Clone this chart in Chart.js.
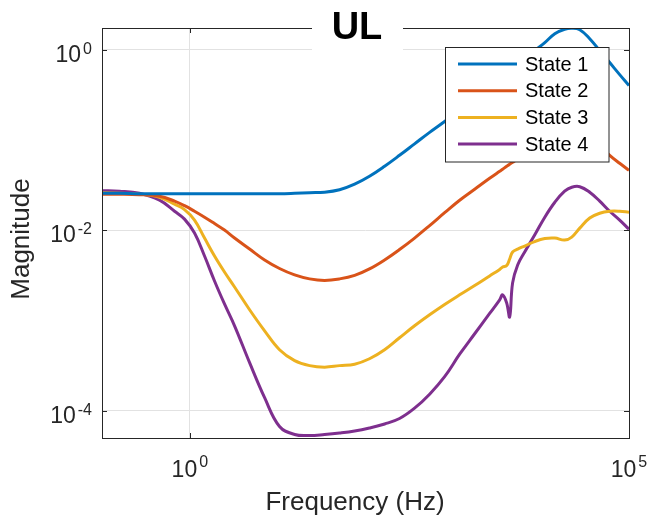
<!DOCTYPE html>
<html><head><meta charset="utf-8">
<script src="https://cdn.jsdelivr.net/npm/chart.js@4/dist/chart.umd.min.js"></script>
<style>html,body{margin:0;padding:0;background:#fff;}canvas{display:block;}</style>
</head><body>
<canvas id="c" width="654" height="519"></canvas>
<script>
const frequencies = [0.1, 0.158, 0.267, 0.452, 0.67, 0.87, 1.131, 1.47, 1.91, 2.48, 3.23, 4.79, 7.1, 10.5, 15.6, 23.1, 34.2, 50.7, 75.2, 111, 165, 244, 362, 537, 796, 1180, 1750, 2590, 3370, 3640, 4050, 4380, 4730, 5400, 6490, 8430, 11000, 14300, 18500, 22300, 27500, 35700, 46400, 60300, 78300, 100000];
const state1 = [0.0258,0.0258,0.0255,0.0255,0.0255,0.0255,0.0255,0.0255,0.0255,0.0255,0.0255,0.0255,0.0255,0.0255,0.0258,0.0262,0.0265,0.0282,0.0325,0.0398,0.0514,0.0679,0.0910,0.122,0.161,0.216,0.297,0.398,0.482,0.507,0.547,0.583,0.613,0.679,0.791,0.982,1.204,1.514,1.697,1.74,1.676,1.333,0.982,0.724,0.533,0.403];
const state2 = [0.0252,0.0252,0.0249,0.0239,0.0211,0.0188,0.0163,0.0140,0.0119,0.01008,0.00822,0.00621,0.00470,0.00378,0.00321,0.00290,0.00279,0.00290,0.00317,0.00374,0.00470,0.00613,0.00822,0.0113,0.0157,0.0216,0.0286,0.0378,0.0452,0.0476,0.0514,0.0540,0.0568,0.0621,0.0715,0.0865,0.1034,0.119,0.130,0.1333,0.1283,0.1101,0.0876,0.0679,0.0554,0.0464];
const state3 = [0.0262,0.0258,0.0252,0.0233,0.0195,0.0170,0.0130,0.00822,0.00520,0.00346,0.00236,0.00132,0.000771,0.000476,0.000360,0.000317,0.000305,0.000317,0.000329,0.000378,0.000476,0.000646,0.000876,0.00116,0.00151,0.00193,0.00245,0.00313,0.00369,0.00393,0.00408,0.00482,0.00576,0.00621,0.00671,0.00752,0.00812,0.00822,0.00781,0.00843,0.0106,0.0137,0.0155,0.0163,0.0163,0.0159];
const state4 = [0.0275,0.0272,0.0258,0.0216,0.0163,0.01333,0.00934,0.00520,0.00275,0.00153,0.000876,0.000342,0.000140,0.0000671,0.0000547,0.0000533,0.0000547,0.0000568,0.0000598,0.0000646,0.0000715,0.0000822,0.000107,0.000153,0.000239,0.000424,0.000715,0.00120,0.00170,0.00193,0.00157,0.00110,0.00262,0.00414,0.00576,0.00887,0.0140,0.0205,0.0272,0.0301,0.0305,0.0265,0.0211,0.0163,0.0130,0.0103];
const seriesNames = ['State 1', 'State 2', 'State 3', 'State 4'];
const seriesColors = ['#0072BD', '#D95319', '#EDB120', '#7E2F8E'];
const xTickValues = [1, 1e5];
const xTickExponents = ['0', '5'];
const yTickValues = [1e-4, 1e-2, 1];
const yTickExponents = ['-4', '-2', '0'];
const titleText = 'UL';
const xTitle = 'Frequency (Hz)';
const yTitle = 'Magnitude';

const FONT = '"Liberation Sans", Arial, Helvetica, sans-serif';
const allSeries = [state1, state2, state3, state4];

const overlay = {
  id: 'overlay',
  afterDraw(chart) {
    const {ctx, chartArea: a, scales: {x, y}} = chart;
    ctx.save();
    ctx.strokeStyle = '#262626';
    ctx.lineWidth = 1;
    ctx.strokeRect(a.left + 0.5, a.top + 0.5, a.right - a.left, a.bottom - a.top);
    ctx.beginPath();
    xTickValues.forEach(v => {
      const px = Math.round(x.getPixelForValue(v)) + 0.5;
      ctx.moveTo(px, a.bottom); ctx.lineTo(px, a.bottom - 5);
      ctx.moveTo(px, a.top); ctx.lineTo(px, a.top + 5);
    });
    yTickValues.forEach(v => {
      const py = Math.round(y.getPixelForValue(v)) + 0.5;
      ctx.moveTo(a.left, py); ctx.lineTo(a.left + 5, py);
      ctx.moveTo(a.right, py); ctx.lineTo(a.right - 5, py);
    });
    ctx.stroke();
    ctx.fillStyle = '#262626';
    ctx.textBaseline = 'alphabetic';
    ctx.textAlign = 'left';
    const big = '23px ' + FONT, small = '16px ' + FONT, gap = 2;
    yTickValues.forEach((v, i) => {
      const py = y.getPixelForValue(v);
      ctx.font = big; const w1 = ctx.measureText('10').width;
      ctx.font = small; const w2 = ctx.measureText(yTickExponents[i]).width;
      const start = a.left - 10 - (w1 + gap + w2);
      ctx.font = big; ctx.fillText('10', start, py + 12);
      ctx.font = small; ctx.fillText(yTickExponents[i], start + w1 + gap, py + 4);
    });
    xTickValues.forEach((v, i) => {
      const px = x.getPixelForValue(v);
      ctx.font = big; const w1 = ctx.measureText('10').width;
      ctx.font = small; const w2 = ctx.measureText(xTickExponents[i]).width;
      const start = px - (w1 + gap + w2) / 2;
      ctx.font = big; ctx.fillText('10', start, 477);
      ctx.font = small; ctx.fillText(xTickExponents[i], start + w1 + gap, 467);
    });
    ctx.font = '26px ' + FONT;
    ctx.textAlign = 'center';
    ctx.fillText(xTitle, 355, 510);
    ctx.save();
    ctx.translate(22, 239);
    ctx.rotate(-Math.PI / 2);
    ctx.textBaseline = 'middle';
    ctx.fillText(yTitle, 0, 0);
    ctx.restore();
    ctx.fillStyle = '#fff';
    ctx.fillRect(445.5, 47.5, 163.5, 114.5);
    ctx.strokeStyle = '#262626';
    ctx.lineWidth = 1;
    ctx.strokeRect(445.5, 47.5, 163.5, 114.5);
    ctx.textAlign = 'left';
    ctx.textBaseline = 'middle';
    ctx.font = '20px ' + FONT;
    seriesNames.forEach((n, i) => {
      const ry = 64 + i * 26.7;
      ctx.strokeStyle = seriesColors[i];
      ctx.lineWidth = 3;
      ctx.beginPath(); ctx.moveTo(458, ry); ctx.lineTo(517, ry); ctx.stroke();
      ctx.fillStyle = '#000';
      ctx.fillText(n, 525, ry + 1);
    });
    ctx.fillStyle = '#fff';
    ctx.fillRect(312, 0, 91, 52);
    ctx.fillStyle = '#000';
    ctx.font = 'bold 38px ' + FONT;
    ctx.textAlign = 'center';
    ctx.textBaseline = 'alphabetic';
    ctx.fillText(titleText, 357, 39);
    ctx.restore();
  }
};

new Chart(document.getElementById('c'), {
  type: 'line',
  data: {
    datasets: allSeries.map((s, i) => ({
      label: seriesNames[i],
      data: frequencies.map((f, j) => ({x: f, y: s[j]})),
      borderColor: seriesColors[i],
      backgroundColor: seriesColors[i],
      borderWidth: 3,
      pointRadius: 0,
      fill: false,
      tension: 0.4
    }))
  },
  options: {
    responsive: false,
    devicePixelRatio: 1,
    animation: false,
    layout: {padding: {top: 28, right: 25, left: 0, bottom: 0}},
    plugins: {legend: {display: false}, tooltip: {enabled: false}},
    scales: {
      x: {
        type: 'logarithmic', min: 0.1, max: 1e5,
        afterBuildTicks: s => { s.ticks = xTickValues.map(v => ({value: v})); },
        afterFit: s => { s.height = 81; },
        ticks: {display: false},
        grid: {color: '#e2e2e2', lineWidth: 1, drawTicks: false},
        border: {display: false}
      },
      y: {
        type: 'logarithmic', min: 5e-5, max: 1.75,
        afterBuildTicks: s => { s.ticks = yTickValues.map(v => ({value: v})); },
        afterFit: s => { s.width = 102; },
        ticks: {display: false},
        grid: {color: '#e2e2e2', lineWidth: 1, drawTicks: false},
        border: {display: false}
      }
    }
  },
  plugins: [overlay]
});
</script>
</body></html>
